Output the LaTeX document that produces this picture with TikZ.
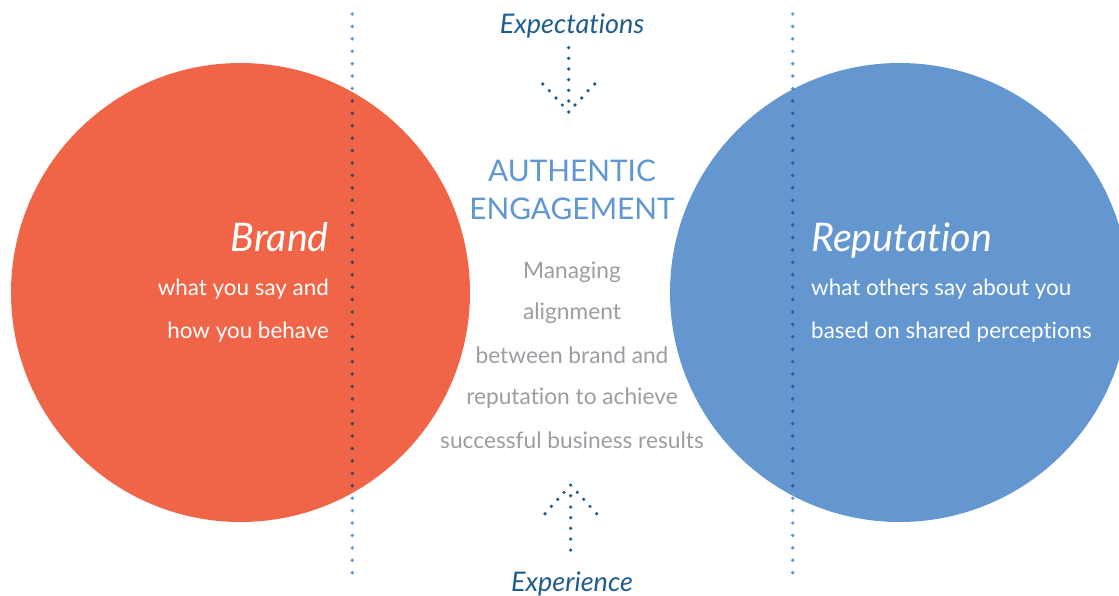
\documentclass[tikz,border=0pt]{standalone}
\usepackage{fontspec}
\setmainfont{Lato}[Ligatures=NoCommon]
\definecolor{brandorange}{HTML}{F06548}
\definecolor{repblue}{HTML}{6496D0}
\definecolor{guideblue}{HTML}{5B9BD8}
\definecolor{darkonorange}{HTML}{5A3D3A}
\definecolor{darkonblue}{HTML}{2C5CA8}
\definecolor{arrowblue}{HTML}{1F5D8F}
\definecolor{titleblue}{HTML}{5F97D2}
\definecolor{bodygray}{HTML}{9A9DA1}
\tikzset{
  heading/.style={font=\fontsize{39.5}{39.5}\selectfont\itshape, text=white, inner sep=0pt},
  circletext/.style={font=\fontsize{22.4}{22.4}\selectfont, text=white, inner sep=0pt},
  flowlabel/.style={font=\fontsize{27}{27}\selectfont\itshape, text=arrowblue, inner sep=0pt},
  titletext/.style={font=\fontsize{29.8}{29.8}\selectfont, text=titleblue, inner sep=0pt},
  bodytext/.style={font=\fontsize{22.7}{22.7}\selectfont, text=bodygray, inner sep=0pt},
}
\begin{document}
\begin{tikzpicture}[x=1pt,y=-1pt]
\useasboundingbox (0,0) rectangle (1119,595);
\clip (0,0) rectangle (1119,595);

% the two circles
\fill[brandorange] (240.5,292.5) circle (229.5);
\fill[repblue] (899.5,292.5) circle (229.5);

% dotted guide lines
\foreach \gx in {352.3,792.7}{
  \foreach \i in {0,...,45}
    \fill[guideblue] (\gx,14+\i*12.415) circle (1.9);
}
\begin{scope}
  \clip (240.5,292.5) circle (229.5);
  \foreach \i in {0,...,45}
    \fill[darkonorange] (352.3,14+\i*12.415) circle (1.9);
\end{scope}
\begin{scope}
  \clip (899.5,292.5) circle (229.5);
  \foreach \i in {0,...,45}
    \fill[darkonblue] (792.7,14+\i*12.415) circle (1.9);
\end{scope}

% dotted arrow pointing down
\foreach \p in {(568.7,47.7),(568.7,58.3),(568.7,69),(568.7,79.7),(568.7,90.3),(568.7,101),(568.7,112),
  (542.7,84),(549.3,90.7),(556,98),(562.3,105),
  (594.7,84),(588,90.7),(581.7,98),(575,105)}
  \fill[arrowblue] \p circle (1.8);

% dotted arrow pointing up
\foreach \p in {(570.7,485),(570.7,495.7),(570.7,507),(570.7,517.7),(570.7,528.3),(570.7,539),(570.7,550),
  (564,492.3),(557.7,499.3),(551.3,506.3),(545,513.7),
  (577.3,492.3),(583.7,499.3),(590,506.3),(596.7,513.7)}
  \fill[arrowblue] \p circle (1.8);

% labels
\node[flowlabel, anchor=base] (expect) at (572,33) {Expectations};
\node[flowlabel, anchor=base] (exper) at (572,591) {Experience};

\node[heading, anchor=base east] (brand) at (329,251) {Brand};
\node[circletext, anchor=base east] (b1) at (329,295) {what you say and};
\node[circletext, anchor=base east] (b2) at (329,338.5) {how you behave};

\node[heading, anchor=base west] (rep) at (811,251.5) {Reputation};
\node[circletext, anchor=base west] (r1) at (811,295.5) {what others say about you};
\node[circletext, anchor=base west] (r2) at (811,338.5) {based on shared perceptions};

\node[titletext, anchor=base] (t1) at (572,181) {AUTHENTIC};
\node[titletext, anchor=base] (t2) at (572,219) {ENGAGEMENT};

\node[bodytext, anchor=base] (m1) at (572,278) {Managing};
\node[bodytext, anchor=base] (m2) at (572,319.5) {alignment};
\node[bodytext, anchor=base] (m3) at (572,363) {between brand and};
\node[bodytext, anchor=base] (m4) at (572,404.5) {reputation to achieve};
\node[bodytext, anchor=base] (m5) at (572,448) {successful business results};
\end{tikzpicture}
\end{document}
